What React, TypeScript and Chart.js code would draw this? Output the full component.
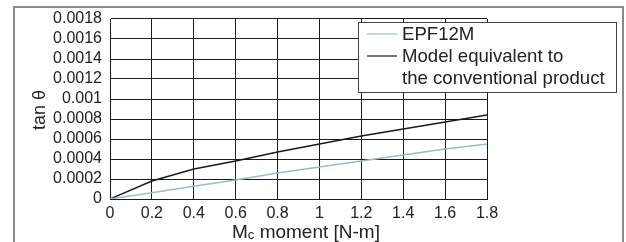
import React, { useEffect, useRef } from "react";
import { Chart, registerables } from "chart.js";

Chart.register(...registerables);

const xValues = [0, 0.2, 0.4, 0.6, 0.8, 1.0, 1.2, 1.4, 1.6, 1.8];
const epf12m = [0, 0.000063, 0.000127, 0.00019, 0.00026, 0.00032, 0.00038, 0.00044, 0.0005, 0.00055];
const conventional = [0, 0.00018, 0.0003, 0.00038, 0.00047, 0.00055, 0.00063, 0.0007, 0.00077, 0.00084];
const xTickLabels = ["0", "0.2", "0.4", "0.6", "0.8", "1", "1.2", "1.4", "1.6", "1.8"];
const yTickLabels = ["0", "0.0002", "0.0004", "0.0006", "0.0008", "0.001", "0.0012", "0.0014", "0.0016", "0.0018"];
const seriesNames = ["EPF12M", "Model equivalent to", "the conventional product"];

const FONT = "'Liberation Sans', Arial, Helvetica, sans-serif";
const TEXT = "#222";
const BLUE = "#9bbad0";
const BLACK = "#1a1a1a";

const decorPlugin = {
  id: "decor",
  beforeDraw(chart: any) {
    const ctx = chart.ctx;
    ctx.save();
    ctx.fillStyle = "#fff";
    ctx.fillRect(0, 0, chart.width, chart.height);
    ctx.strokeStyle = "#8a8a8a";
    ctx.lineWidth = 2;
    ctx.strokeRect(14, 7, 609, 260);
    ctx.restore();
  },
  afterDraw(chart: any) {
    const ctx = chart.ctx;
    const area = chart.chartArea;
    ctx.save();
    // x title with subscript
    ctx.fillStyle = TEXT;
    ctx.textBaseline = "alphabetic";
    const big = `19px ${FONT}`;
    const small = `13px ${FONT}`;
    ctx.font = big;
    const wM = ctx.measureText("M").width;
    ctx.font = small;
    const wc = ctx.measureText("c").width;
    ctx.font = big;
    const rest = " moment [N-m]";
    const wR = ctx.measureText(rest).width;
    const total = wM + wc + wR;
    const cx = 306;
    let x = cx - total / 2;
    const base = 238;
    ctx.textAlign = "left";
    ctx.fillText("M", x, base);
    x += wM;
    ctx.font = small;
    ctx.fillText("c", x, base + 1);
    x += wc;
    ctx.font = big;
    ctx.fillText(rest, x, base);
    // y title
    ctx.save();
    ctx.translate(45, (area.top + area.bottom) / 2 + 1);
    ctx.rotate(-Math.PI / 2);
    ctx.textAlign = "center";
    ctx.font = `18px ${FONT}`;
    ctx.fillText("tan θ", 0, 0);
    ctx.restore();
    // legend
    const lx = 358, ly = 22, lw = 258, lh = 70;
    ctx.fillStyle = "#fff";
    ctx.fillRect(lx, ly, lw, lh);
    ctx.strokeStyle = "#444";
    ctx.lineWidth = 1;
    ctx.strokeRect(lx + 0.5, ly + 0.5, lw, lh);
    ctx.font = `18.6px ${FONT}`;
    ctx.fillStyle = TEXT;
    ctx.textBaseline = "middle";
    const rows = [34, 56, 78];
    ctx.lineWidth = 1.2;
    ctx.strokeStyle = BLUE;
    ctx.beginPath();
    ctx.moveTo(367, rows[0]);
    ctx.lineTo(397, rows[0]);
    ctx.stroke();
    ctx.strokeStyle = BLACK;
    ctx.beginPath();
    ctx.moveTo(367, rows[1]);
    ctx.lineTo(397, rows[1]);
    ctx.stroke();
    seriesNames.forEach((t, i) => ctx.fillText(t, 402, rows[i] + 1));
    ctx.restore();
  },
};

export default function App() {
  const ref = useRef<HTMLCanvasElement>(null);
  useEffect(() => {
    if (!ref.current) return;
    const chart = new Chart(ref.current, {
      type: "line",
      data: {
        datasets: [
          {
            label: seriesNames[0],
            data: xValues.map((x, i) => ({ x, y: epf12m[i] })),
            borderColor: BLUE,
            borderWidth: 1.5,
            pointRadius: 0,
            tension: 0,
          },
          {
            label: seriesNames[1],
            data: xValues.map((x, i) => ({ x, y: conventional[i] })),
            borderColor: BLACK,
            borderWidth: 1.4,
            pointRadius: 0,
            tension: 0,
          },
        ],
      },
      options: {
        animation: false,
        responsive: false,
        devicePixelRatio: 1,
        layout: { padding: { left: 0, right: 139, top: 19, bottom: 0 } },
        plugins: { legend: { display: false }, tooltip: { enabled: false } },
        scales: {
          x: {
            type: "linear",
            min: 0,
            max: 1.8,
            afterFit: (s: any) => { s.height = 43; },
            afterBuildTicks: (s: any) => { s.ticks = xValues.map((v) => ({ value: v })); },
            grid: { color: BLACK, lineWidth: 1, drawTicks: false },
            border: { color: BLACK, width: 1 },
            ticks: {
              padding: 5,
              color: TEXT,
              font: { family: FONT, size: 16 },
              maxRotation: 0,
              autoSkip: false,
              callback: (_v: any, i: number) => xTickLabels[i],
            },
          },
          y: {
            type: "linear",
            min: 0,
            max: 0.0018,
            afterFit: (s: any) => { s.width = 110; },
            afterBuildTicks: (s: any) => { s.ticks = yTickLabels.map((_, i) => ({ value: i * 0.0002 })); },
            grid: { color: BLACK, lineWidth: 1, drawTicks: false },
            border: { color: BLACK, width: 1 },
            ticks: {
              padding: 8,
              color: TEXT,
              font: { family: FONT, size: 16 },
              autoSkip: false,
              callback: (_v: any, i: number) => yTickLabels[i],
            },
          },
        },
      },
      plugins: [decorPlugin],
    });
    return () => chart.destroy();
  }, []);
  return (
    <div style={{ position: "fixed", left: 0, top: 0, width: 626, height: 242 }}>
      <canvas ref={ref} width={626} height={242} style={{ width: 626, height: 242 }} />
    </div>
  );
}
